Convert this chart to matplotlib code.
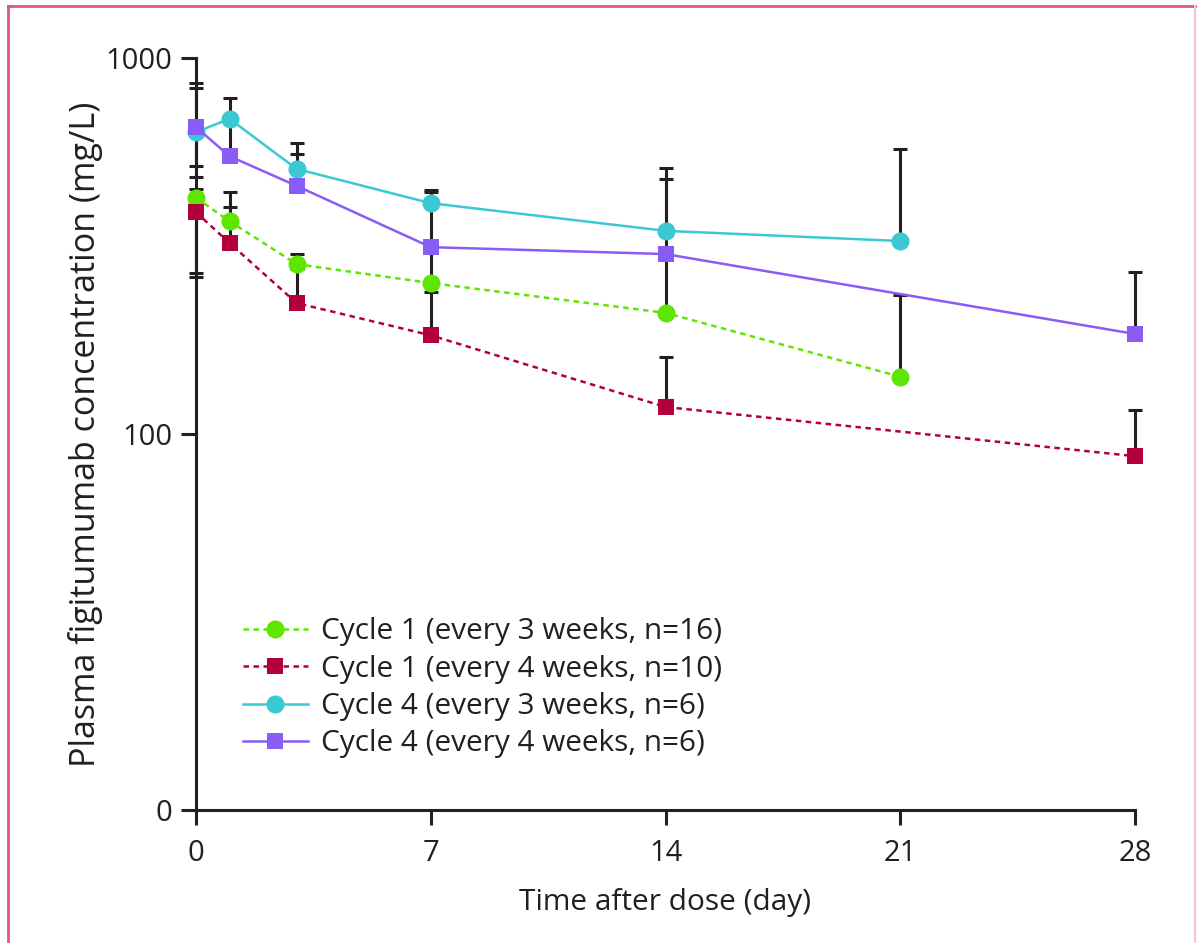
import numpy as np
import matplotlib.pyplot as plt
from matplotlib.lines import Line2D
from matplotlib.ticker import FixedLocator, NullLocator

plt.rcParams['font.family'] = ['Open Sans', 'DejaVu Sans']

# data (mg/L)
days_q3w = [0, 1, 3, 7, 14, 21]
days_q4w = [0, 1, 3, 7, 14, 28]

c1_q3w = [425, 368, 283, 252, 210, 142]
c1_q3w_up = [449, 440, 301, 308, 300, 234]
c1_q3w_lo = [268, 368, 283, 252, 210, 142]

c1_q4w = [389, 322, 223, 183, 118, 87.3]
c1_q4w_up = [389, 402, 275, 239, 160, 116]
c1_q4w_lo = [262, 322, 223, 183, 118, 87.3]

c4_q3w = [635, 689, 507, 411, 347, 326]
c4_q3w_up = [858, 783, 594, 446, 510, 573]
c4_q3w_lo = [483, 689, 507, 411, 347, 326]

c4_q4w = [655, 548, 457, 314, 301, 184.5]
c4_q4w_up = [832, 670, 556, 441, 477, 270]
c4_q4w_lo = [516, 548, 457, 314, 301, 184.5]

labels = ["Cycle 1 (every 3 weeks, n=16)",
          "Cycle 1 (every 4 weeks, n=10)",
          "Cycle 4 (every 3 weeks, n=6)",
          "Cycle 4 (every 4 weeks, n=6)"]

series = [
    (days_q3w, c1_q3w, c1_q3w_lo, c1_q3w_up, '#5fe600', 'o', 13, (0, (2.2, 1.8))),
    (days_q4w, c1_q4w, c1_q4w_lo, c1_q4w_up, '#b3003b', 's', 11, (0, (2.2, 1.8))),
    (days_q3w, c4_q3w, c4_q3w_lo, c4_q3w_up, '#3ac9d3', 'o', 13, '-'),
    (days_q4w, c4_q4w, c4_q4w_lo, c4_q4w_up, '#8a5cf6', 's', 11, '-'),
]

ink = '#231f20'

fig = plt.figure(figsize=(11.97, 9.43), dpi=100)
ax = fig.add_axes([196 / 1197, 1 - 810 / 943, (1135 - 196) / 1197, (810 - 58) / 943])

# error bars first, so markers sit on top
for x, y, lo, up, col, mk, ms, ls in series:
    y = np.array(y)
    err = [y - np.array(lo), np.array(up) - y]
    ax.errorbar(x, y, yerr=err, fmt='none', ecolor=ink, elinewidth=2.2,
                capsize=5, capthick=2.2, zorder=2, clip_on=False)

for (x, y, lo, up, col, mk, ms, ls), lab in zip(series, labels):
    ax.plot(x, y, color=col, linestyle=ls, linewidth=1.8, marker=mk,
            markersize=ms, markeredgewidth=0, label=lab, zorder=3, clip_on=False)

ax.set_yscale('log')
ax.set_ylim(10, 1000)
ax.set_xlim(0, 28)
ax.yaxis.set_major_locator(FixedLocator([10, 100, 1000]))
ax.yaxis.set_minor_locator(NullLocator())
ax.set_yticklabels(['0', '100', '1000'])
ax.set_xticks([0, 7, 14, 21, 28])

for s in ['top', 'right']:
    ax.spines[s].set_visible(False)
for s in ['left', 'bottom']:
    ax.spines[s].set_linewidth(2.2)
    ax.spines[s].set_color(ink)

ax.tick_params(axis='both', direction='out', length=11, width=2.2, color=ink,
               labelsize=21, labelcolor=ink, pad=6)
ax.tick_params(axis='x', pad=10)

ax.set_xlabel("Time after dose (day)", fontsize=21.5, color=ink, labelpad=14)
ax.set_ylabel("Plasma figitumumab concentration (mg/L)", fontsize=24.5, color=ink, labelpad=2)

leg = ax.legend(loc='upper left', bbox_to_anchor=(0.037, 0.272), frameon=False,
                fontsize=21.4, handlelength=2.2, handletextpad=0.45,
                labelspacing=0.28, borderaxespad=0)
for t in leg.get_texts():
    t.set_color(ink)

# pink frame around the figure
fig.add_artist(Line2D([8 / 1197, 8 / 1197], [0, 1 - 6 / 943], transform=fig.transFigure,
                      color='#db5a84', linewidth=2))
fig.add_artist(Line2D([8 / 1197, 1195 / 1197], [1 - 6 / 943, 1 - 6 / 943],
                      transform=fig.transFigure, color='#db5a84', linewidth=2))
fig.add_artist(Line2D([1195 / 1197, 1195 / 1197], [0, 1 - 6 / 943], transform=fig.transFigure,
                      color='#f2c6d3', linewidth=1.5))

fig.savefig('out.png', dpi=100)
